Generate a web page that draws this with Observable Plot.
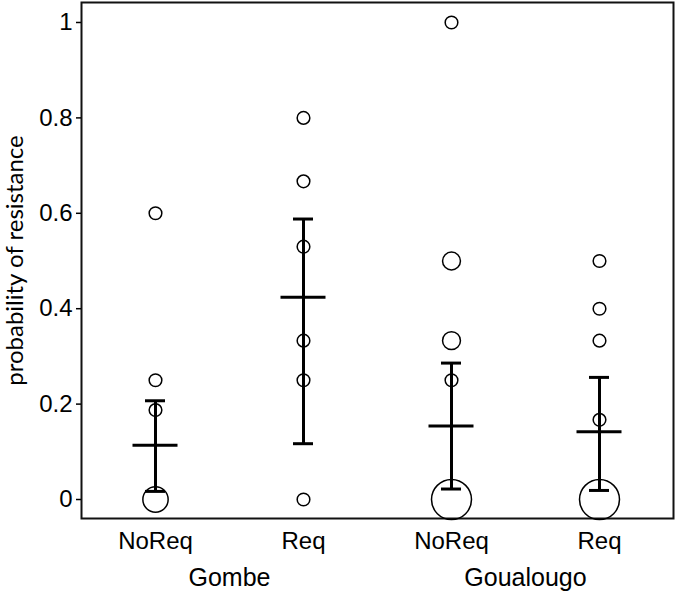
<!DOCTYPE html>
<html>
<head>
<meta charset="utf-8">
<script src="https://cdn.jsdelivr.net/npm/d3@7"></script>
<script src="https://cdn.jsdelivr.net/npm/@observablehq/plot@0.6"></script>
<style>
  html, body { margin: 0; padding: 0; background: #fff; }
</style>
</head>
<body>
<div id="chart"></div>
<script>
// ---- data ----
const sites = ["Gombe", "Goualougo"];
const conditions = ["NoReq", "Req"];
const yTicks = [0, 0.2, 0.4, 0.6, 0.8, 1];
const yLabel = "probability of resistance";

// individual observations (count = number of overlapping observations)
const pointSite  = ["Gombe","Gombe","Gombe","Gombe",
                    "Gombe","Gombe","Gombe","Gombe","Gombe","Gombe",
                    "Goualougo","Goualougo","Goualougo","Goualougo","Goualougo",
                    "Goualougo","Goualougo","Goualougo","Goualougo","Goualougo"];
const pointCond  = ["NoReq","NoReq","NoReq","NoReq",
                    "Req","Req","Req","Req","Req","Req",
                    "NoReq","NoReq","NoReq","NoReq","NoReq",
                    "Req","Req","Req","Req","Req"];
const pointValue = [0.6, 0.25, 0.1875, 0,
                    0.8, 0.667, 0.53, 0.333, 0.25, 0,
                    1, 0.5, 0.333, 0.25, 0,
                    0.5, 0.4, 0.333, 0.167, 0];
const pointCount = [1, 1, 1, 4,
                    1, 1, 1, 1, 1, 1,
                    1, 2, 2, 1, 10,
                    1, 1, 1, 1, 10];

// group means with error bars
const barSite  = ["Gombe", "Gombe", "Goualougo", "Goualougo"];
const barCond  = ["NoReq", "Req", "NoReq", "Req"];
const barMean  = [0.114, 0.424, 0.154, 0.142];
const barLower = [0.017, 0.117, 0.022, 0.019];
const barUpper = [0.207, 0.588, 0.286, 0.256];

// ---- tables built from the arrays ----
const points = pointValue.map((v, i) => ({site: pointSite[i], cond: pointCond[i], value: v, count: pointCount[i]}));
const bars = barMean.map((m, i) => ({site: barSite[i], cond: barCond[i], mean: m, lower: barLower[i], upper: barUpper[i]}));

const barStyle = {fx: "site", x: "cond", stroke: "#000", strokeWidth: 3};

const chart = Plot.plot({
  width: 677,
  height: 593,
  marginLeft: 81,
  marginRight: 4,
  marginTop: 2,
  marginBottom: 75,
  style: {fontFamily: "'Liberation Sans', Arial, sans-serif", fontSize: "24px", color: "#000", background: "#fff"},
  fx: {domain: sites, padding: 0, label: null},
  x: {domain: conditions, padding: 0, label: null},
  y: {domain: [-0.0398, 1.0419], label: null},
  r: {type: "sqrt", domain: [0, 10], range: [0, 20]},
  marks: [
    Plot.frame({facet: "super", stroke: "#111", strokeWidth: 2}),
    Plot.axisY(yTicks, {tickSize: 5, tickPadding: 4, strokeWidth: 1.5, tickFormat: d => String(d), fontSize: 24, label: null}),
    Plot.axisX({tickSize: 0, tickPadding: 13, fontSize: 24, label: null}),
    Plot.axisFx({anchor: "bottom", tickSize: 0, tickPadding: 50, fontSize: 25, label: null}),
    Plot.dot(points, {fx: "site", x: "cond", y: "value", r: "count", stroke: "#000", strokeWidth: 1.5, fill: "none"}),
    Plot.ruleX(bars, {...barStyle, y1: "lower", y2: "upper"}),
    Plot.tickY(bars, {...barStyle, y: "mean", insetLeft: 51.5, insetRight: 51.5}),
    Plot.tickY(bars, {...barStyle, y: "lower", insetLeft: 64, insetRight: 64}),
    Plot.tickY(bars, {...barStyle, y: "upper", insetLeft: 64, insetRight: 64}),
    Plot.text([yLabel], {frameAnchor: "left", rotate: -90, dx: -59, lineAnchor: "bottom", textAnchor: "middle",
                         fontFamily: "Lato, 'Open Sans', sans-serif", fontSize: 24, fill: "#000", facetAnchor: "left"})
  ]
});

document.getElementById("chart").appendChild(chart);
</script>
</body>
</html>
